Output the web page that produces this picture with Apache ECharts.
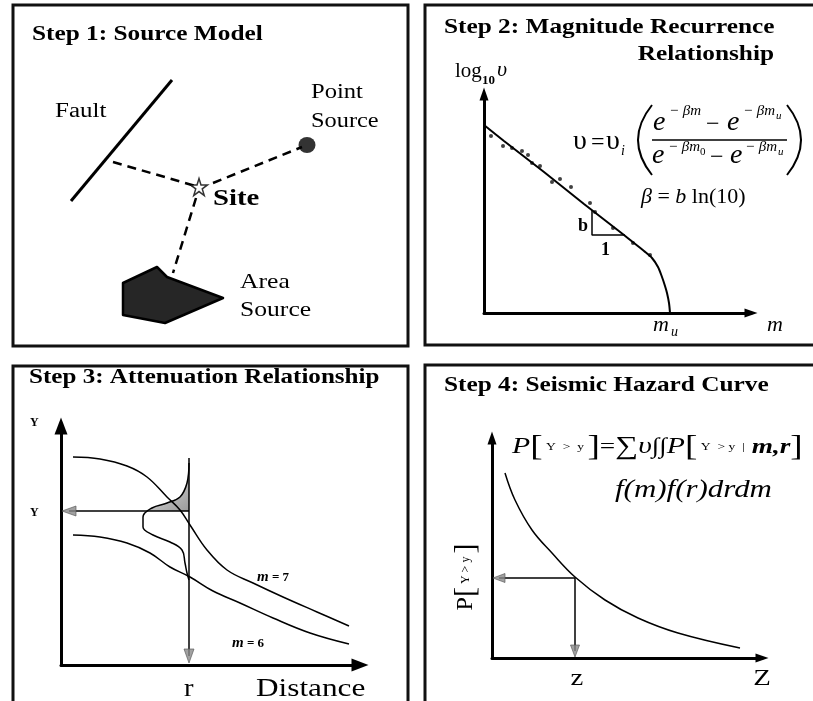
<!DOCTYPE html>
<html><head><meta charset="utf-8">
<script src="https://cdn.jsdelivr.net/npm/echarts@6/dist/echarts.min.js"></script>
<style>html,body{margin:0;padding:0;background:#fff}#c{width:813px;height:701px}</style>
</head><body><div id="c"></div>
<script>
const SERIF = '"Liberation Serif","Times New Roman",serif';

// ---------- Step 1: source model (diagram units) ----------
const faultTrace   = [[159,266],[58,145]];
const siteLocation = [[186,159]];
const pointSource  = [[294,201]];
const distToFault  = [[100,184],[186,159]];
const distToPoint  = [[200,163],[289,199]];
const distToArea   = [[183,148],[160,73]];
const areaSource   = [[144,79],[154,69],[210,48],[152,23],[110,31],[110,63]];

// ---------- Step 2: magnitude recurrence ----------
const recurrenceFit = [[0,188],[20,172],[60,141],[100,109],[140,78],[150,70],[160,62],[168,55],[174,46],[178,36],[181,27],[183,20],[185,10],[186,0]];
const recurrenceObs = [[7,177],[19,167],[28,165],[38,162],[44,158],[48,150],[56,147],[68,131],[76,134],[87,126],[106,110],[111,101],[129,85],[149,70],[166,58]];
const slopeTriangle = [[108,103],[108,78],[141,78]];

// ---------- Step 3: attenuation ----------
const attenM7 = [[12,208],[39,206],[66,199],[86,188],[106,168],[119,155],[129,140],[146,115],[166,95],[192,82],[222,68],[256,53],[288,39]];
const attenM6 = [[12,130],[39,128],[66,122],[89,112],[109,98],[129,88],[152,74],[179,62],[212,47],[249,32],[288,21]];
const residualPdf = [[128,202],[126,182],[119,168],[106,162],[91,157],[82,148],[82,138],[92,130],[109,123],[121,115],[124,102],[126,92],[128,85]];
const pdfExceed   = [[128,202],[126,182],[119,168],[106,162],[91,157],[88,154],[128,154]];
const rLine = [[128,207],[128,9]];
const yLine = [[128,154],[8,154]];

// ---------- Step 4: hazard curve ----------
const hazardCurve = [[13,185],[23,158],[40,128],[60,105],[83,81],[113,58],[146,40],[186,25],[248,10]];
const zLine = [[83,80],[83,7]];
const pLine = [[83,80],[7,80]];

const STAR = 'path://M50,2 L61,36 L97,36 L68,57 L79,92 L50,71 L21,92 L32,57 L3,36 L39,36 Z';

function T(text, x, base, size, o) {
  o = o || {};
  const font = (o.italic ? 'italic ' : '') + (o.bold ? 'bold ' : '') + size + 'px ' + SERIF;
  const st = { text: text, font: font, fill: '#000', textAlign: o.align || 'left', align: o.align || 'left',
    textVerticalAlign: 'middle', verticalAlign: 'middle' };
  if (o.rich) st.rich = o.rich;
  return { type: 'text', x: x, y: base - 0.34 * size, scaleX: o.sx || 1, rotation: o.rot || 0, z: 50, style: st };
}
function F(style, size) { return { font: style + ' ' + size + 'px ' + SERIF }; }

const frames = [[13,5,395,341],[425,5,420,340],[13,366,395,360],[425,365,420,360]].map(r => ({
  type: 'rect', z: 1, shape: { x: r[0], y: r[1], width: r[2], height: r[3] },
  style: { fill: 'none', stroke: '#111', lineWidth: 3 }
}));

const texts = [
  // panel 1
  T('Step 1: Source Model', 32, 42, 22, { bold: true, sx: 1.15 }),
  T('Fault', 55, 119, 20, { sx: 1.25 }),
  T('Point', 311, 100, 21, { sx: 1.17 }),
  T('Source', 311, 129, 21, { sx: 1.16 }),
  T('Site', 213, 207, 23, { bold: true, sx: 1.25 }),
  T('Area', 240, 290, 21, { sx: 1.22 }),
  T('Source', 240, 318, 21, { sx: 1.22 }),
  // panel 2
  T('Step 2: Magnitude Recurrence', 444, 35, 22, { bold: true, sx: 1.15 }),
  T('Relationship', 774, 62, 22, { bold: true, sx: 1.15, align: 'right' }),
  T('log', 455, 79, 20, { sx: 1.05 }),
  T('10', 482, 85, 13, { bold: true }),
  T('υ', 497, 78, 22, { italic: true }),
  T('υ', 573, 151, 28),
  T('=', 591, 151, 24),
  T('υ', 606, 151, 28),
  T('i', 621, 156, 14, { italic: true }),
  T('e', 653, 132, 28, { italic: true }),
  T('− βm', 669, 116, 15, { italic: true }),
  T('−', 706, 133, 24),
  T('e', 727, 132, 28, { italic: true }),
  T('− βm', 743, 116, 15, { italic: true }),
  T('u', 776, 120, 11, { italic: true }),
  T('e', 652, 165, 28, { italic: true }),
  T('− βm', 668, 152, 15, { italic: true }),
  T('0', 700, 156, 11),
  T('−', 710, 166, 24),
  T('e', 730, 165, 28, { italic: true }),
  T('− βm', 745, 152, 15, { italic: true }),
  T('u', 778, 156, 11, { italic: true }),
  T('{i|β} = {i|b} ln(10)', 641, 205, 22, { rich: { i: F('italic', 22) } }),
  T('b', 578, 232, 18, { bold: true }),
  T('1', 601, 256, 18, { bold: true }),
  T('m', 653, 333, 22, { italic: true }),
  T('u', 671, 337, 14, { italic: true }),
  T('m', 767, 333, 22, { italic: true }),
  // panel 3
  T('Step 3: Attenuation Relationship', 29, 385, 22, { bold: true, sx: 1.14 }),
  T('Y', 30, 427, 12, { bold: true }),
  T('Y', 30, 517, 12, { bold: true }),
  T('{m|m}{t| = 7}', 257, 582, 14, { rich: { m: F('italic bold', 15), t: F('bold', 13) } }),
  T('{m|m}{t| = 6}', 232, 648, 14, { rich: { m: F('italic bold', 15), t: F('bold', 13) } }),
  T('r', 184, 698, 26, { sx: 1.1 }),
  T('Distance', 256, 698, 25, { sx: 1.25 }),
  // panel 4
  T('Step 4: Seismic Hazard Curve', 444, 393, 22, { bold: true, sx: 1.15 }),
  T('{P|P}{B|[}{s| Y  >  y }{B|]}{e|=}{S|∑}{I|υ}{e|∫∫}{P|P}{B|[}{s| Y  > y  |  }{M|m,r}{B|]}', 512, 455, 24, {
    sx: 1.24,
    rich: { P: F('italic', 24), B: F('normal', 30), s: F('normal', 11), e: F('normal', 22), S: F('normal', 26), I: F('italic', 24), M: F('italic bold', 22) }
  }),
  T('f(m)f(r)drdm', 615, 499, 26, { italic: true, sx: 1.19 }),
  Object.assign(T('{p|P}{B|[}{s| Y > y }{B|]}', 463, 585, 24, {
    align: 'center', rot: Math.PI / 2,
    rich: { p: F('normal', 24), B: F('normal', 30), s: F('normal', 12) }
  }), { x: 466, y: 577 }),
  T('z', 577, 687, 24, { align: 'center', sx: 1.2 }),
  T('Z', 762, 687, 24, { align: 'center', sx: 1.2 })
];

const deco = [
  { type: 'bezierCurve', z: 50, shape: { x1: 652, y1: 105, x2: 652, y2: 175, cpx1: 624, cpy1: 140 }, style: { stroke: '#000', lineWidth: 2, fill: 'none' } },
  { type: 'bezierCurve', z: 50, shape: { x1: 787, y1: 105, x2: 787, y2: 175, cpx1: 815, cpy1: 140 }, style: { stroke: '#000', lineWidth: 2, fill: 'none' } },
  { type: 'line', z: 50, shape: { x1: 652, y1: 140, x2: 787, y2: 140 }, style: { stroke: '#000', lineWidth: 1.5 } }
];

function axis(type, grid, max, show, sym) {
  return {
    type: 'value', gridIndex: grid, min: 0, max: max, show: show,
    axisLine: { show: show, onZero: false, symbol: ['none', 'triangle'], symbolSize: sym || [10, 13], lineStyle: { color: '#000', width: 3 } },
    axisTick: { show: false }, axisLabel: { show: false }, splitLine: { show: false }
  };
}

function line(data, xi, opts) {
  opts = opts || {};
  return {
    type: 'line', xAxisIndex: xi, yAxisIndex: xi, data: data, symbol: 'none', showSymbol: false,
    smooth: opts.smooth || false, z: opts.z || 5, silent: true,
    lineStyle: { color: opts.color || '#000', width: opts.width || 1.5, type: opts.dash || 'solid' }
  };
}
function head(pt, xi, rot, size) {
  return {
    type: 'scatter', xAxisIndex: xi, yAxisIndex: xi, z: 6, silent: true,
    data: [{ value: pt, symbolRotate: rot }], symbol: 'triangle', symbolSize: size,
    itemStyle: { color: '#8a8a8a', borderColor: '#555', borderWidth: 0.8 }
  };
}
function polygon(pts, xi, style, z) {
  return {
    type: 'custom', xAxisIndex: xi, yAxisIndex: xi, z: z || 3, silent: true, data: pts,
    renderItem: function (params, api) {
      if (params.dataIndex !== 0) return null;
      return { type: 'polygon', shape: { points: pts.map(p => api.coord(p)) }, style: style };
    }
  };
}

const option = {
  animation: false,
  backgroundColor: '#fff',
  grid: [
    { left: 13, top: 5, width: 395, height: 341, outerBoundsMode: 'none' },
    { left: 484, top: 94, width: 267, height: 219, outerBoundsMode: 'none' },
    { left: 61, top: 426, width: 299, height: 239, outerBoundsMode: 'none' },
    { left: 492, top: 438, width: 270, height: 220, outerBoundsMode: 'none' }
  ],
  xAxis: [axis('x', 0, 395, false), axis('x', 1, 267, true, [9, 13]), axis('x', 2, 299, true, [13, 17]), axis('x', 3, 270, true, [9, 13])],
  yAxis: [axis('y', 0, 341, false), axis('y', 1, 219, true, [9, 13]), axis('y', 2, 239, true, [13, 17]), axis('y', 3, 220, true, [9, 13])],
  graphic: { elements: frames.concat(deco, texts) },
  series: [
    // panel 1
    line(faultTrace, 0, { width: 3 }),
    line(distToFault, 0, { width: 2.5, dash: [9, 6] }),
    line(distToPoint, 0, { width: 2.5, dash: [9, 6] }),
    line(distToArea, 0, { width: 2.5, dash: [9, 6] }),
    polygon(areaSource, 0, { fill: '#262626', stroke: '#000', lineWidth: 2.5, lineJoin: 'round' }),
    { type: 'scatter', xAxisIndex: 0, yAxisIndex: 0, data: pointSource, symbol: 'circle', symbolSize: [17, 16], itemStyle: { color: '#000' }, silent: true },
    { type: 'scatter', xAxisIndex: 0, yAxisIndex: 0, data: siteLocation, symbol: STAR, symbolSize: 17, z: 8, itemStyle: { color: '#fff', borderColor: '#000', borderWidth: 1.5 }, silent: true },
    // panel 2
    line(recurrenceFit, 1, { width: 2, smooth: 0.3 }),
    { type: 'scatter', xAxisIndex: 1, yAxisIndex: 1, data: recurrenceObs, symbol: 'circle', symbolSize: 4, itemStyle: { color: '#111' }, silent: true },
    line(slopeTriangle, 1, { width: 1.5 }),
    // panel 3
    polygon(pdfExceed, 2, { fill: new echarts.graphic.LinearGradient(0, 0, 1, 1, [{ offset: 0, color: '#f0f0f0' }, { offset: 1, color: '#9a9a9a' }]) }, 3),
    line(attenM7, 2, { smooth: 0.4 }),
    line(attenM6, 2, { smooth: 0.4 }),
    line(residualPdf, 2, { smooth: 0.4 }),
    line(rLine, 2, { width: 1.5 }),
    line(yLine, 2, { width: 1.5 }),
    head(rLine[1], 2, 180, [10, 14]),
    head(yLine[1], 2, 90, [10, 14]),
    // panel 4
    line(hazardCurve, 3, { smooth: 0.4 }),
    line(zLine, 3, { width: 1.5 }),
    line(pLine, 3, { width: 1.5 }),
    head(zLine[1], 3, 180, [9, 12]),
    head(pLine[1], 3, 90, [9, 12])
  ]
};

const chart = echarts.init(document.getElementById('c'), null, { renderer: 'canvas' });
chart.setOption(option);
</script></body></html>
